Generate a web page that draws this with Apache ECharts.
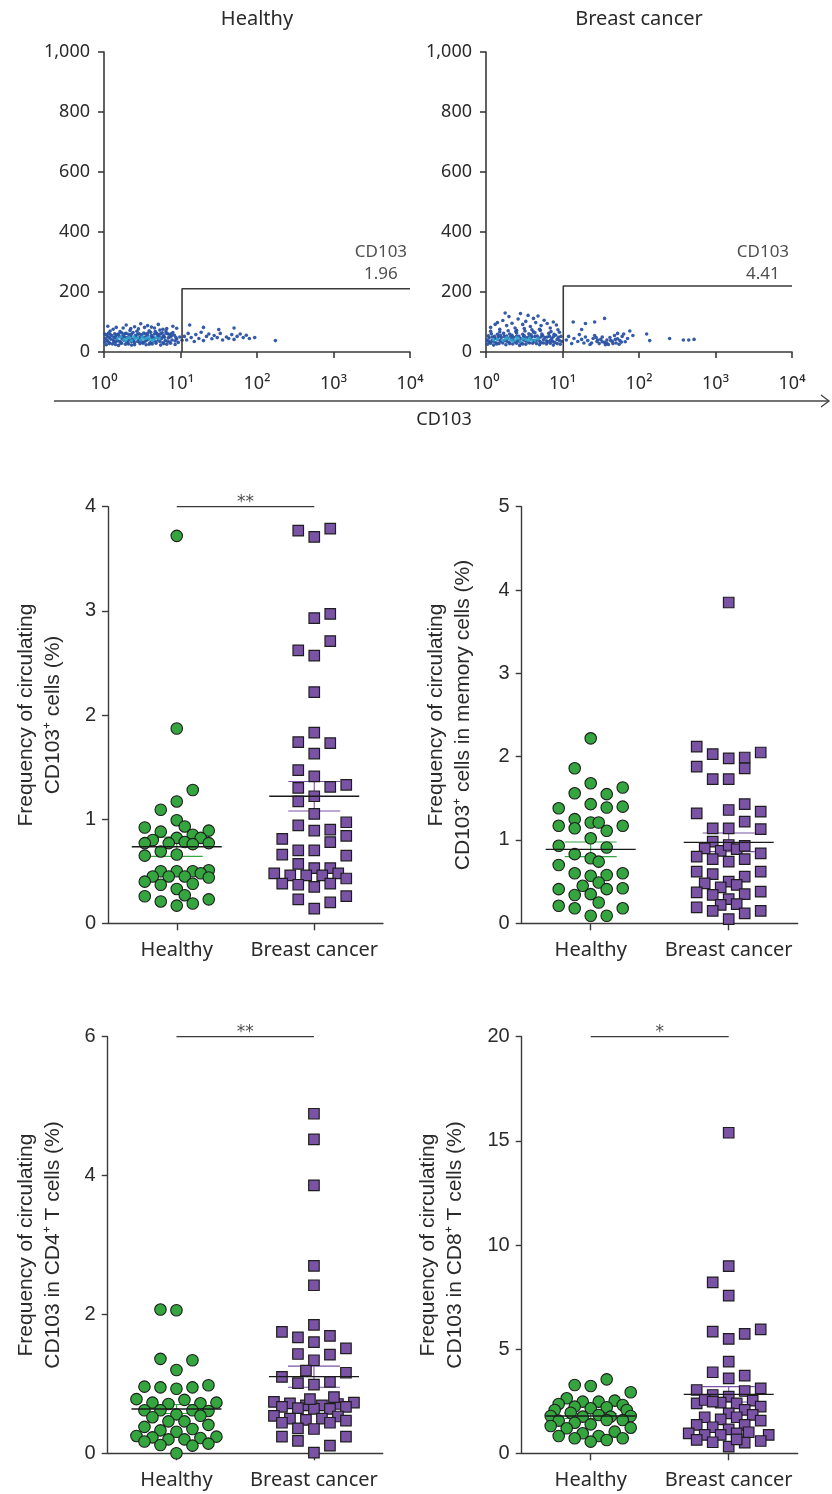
<!DOCTYPE html>
<html><head><meta charset="utf-8">
<script src="https://cdn.jsdelivr.net/npm/echarts@6/dist/echarts.min.js"></script>
<style>html,body{margin:0;padding:0;background:#fff}#c{width:832px;height:1494px}</style>
</head><body><div id="c"></div>
<script>
// ================= DATA =================
// --- flow cytometry panels (x = log10 CD103 intensity, y = scatter) ---
const FLOW_TITLES = ['Healthy', 'Breast cancer'];
const FLOW_X_LABELS = ['10\u2070', '10\u00b9', '10\u00b2', '10\u00b3', '10\u2074'];
const FLOW_Y_LABELS = {0: '0', 200: '200', 400: '400', 600: '600', 800: '800', 1000: '1,000'};
const FLOW_GATE_PCT = ['1.96', '4.41'];
const FLOW_GATE_START = [1.02, 1.01];   // log10 CD103 where gate begins
const FLOW_GATE_HEIGHT = [211, 220];
const FLOW_HEALTHY = [
 [0.03,24],[0.11,27],[0.19,22],[0.28,26],[0.36,23],[0.47,28],[0.55,24],[0.63,27],[0.74,23],[0.82,26],[0.93,25],
 [0.01,33],[0.07,31],[0.15,34],[0.22,30],[0.31,33],[0.40,31],[0.44,35],[0.51,32],[0.60,30],[0.68,34],[0.77,31],[0.86,33],[0.97,32],
 [0.04,38],[0.12,40],[0.18,37],[0.26,39],[0.33,41],[0.39,37],[0.48,39],[0.56,40],[0.65,37],[0.71,41],[0.80,38],[0.89,40],[1.02,39],
 [0.02,45],[0.09,43],[0.16,46],[0.24,44],[0.30,47],[0.37,43],[0.45,45],[0.53,47],[0.58,43],[0.66,46],[0.75,44],[0.84,47],[0.95,43],
 [0.05,51],[0.13,49],[0.20,52],[0.27,50],[0.35,53],[0.42,49],[0.50,51],[0.57,54],[0.64,50],[0.72,52],[0.79,49],[0.88,53],[0.99,50],
 [0.03,57],[0.10,55],[0.17,58],[0.25,56],[0.32,59],[0.41,55],[0.49,57],[0.54,60],[0.62,56],[0.70,58],[0.78,55],[0.85,59],[0.92,56],
 [0.06,63],[0.14,61],[0.23,64],[0.29,62],[0.38,65],[0.46,61],[0.52,63],[0.61,66],[0.69,62],[0.76,64],[0.83,61],[0.90,65],
 [0.08,70],[0.21,68],[0.34,72],[0.43,69],[0.59,71],[0.67,68],[0.73,73],[0.81,70],
 [0.07,28],[0.15,25],[0.23,29],[0.32,27],[0.40,24],[0.51,29],[0.59,26],[0.68,29],[0.78,28],[0.87,29],
 [0.05,36],[0.13,35],[0.21,36],[0.29,35],[0.36,35],[0.47,36],[0.54,36],[0.62,34],[0.73,35],[0.83,36],[0.93,37],
 [0.07,48],[0.15,51],[0.23,48],[0.33,50],[0.40,47],[0.47,49],[0.55,50],[0.62,48],[0.70,49],[0.77,51],[0.86,50],[0.94,48],
 [0.01,60],[0.08,59],[0.19,60],[0.27,61],[0.36,60],[0.44,59],[0.57,62],[0.66,60],[0.74,61],[0.81,63],[0.88,61],
 [0.05,86],[0.16,82],[0.29,90],[0.40,84],[0.48,94],[0.57,88],[0.66,80],[0.71,92],[0.82,78],[0.90,86],[0.35,78],[0.62,83],
 [0.12,76],[0.25,80],[0.45,77],[0.53,82],[0.77,76],[0.95,79],
 [1.05,52],[1.08,40],[1.10,62],[1.14,48],[1.18,35],[1.20,58],[1.24,45],[1.27,66],[1.30,38],[1.34,52],[1.37,60],[1.41,44],
 [1.44,55],[1.48,48],[1.52,62],[1.55,40],[1.60,50],[1.63,45],[1.67,58],[1.70,42],[1.74,52],[1.78,60],[1.82,48],[1.86,56],
 [1.90,45],[1.50,75],[1.70,80],[1.30,82],[1.12,90],[1.97,48],[2.24,38]
];
const FLOW_HEALTHY_CORE = [[0.18,45],[0.26,42],[0.33,48],[0.41,44],[0.48,40],[0.55,46],[0.60,42],[0.68,48],[0.36,38],[0.50,50],[0.22,50],[0.63,38],
 [0.30,44],[0.44,47],[0.52,43],[0.58,49],[0.72,44],[0.28,38],[0.39,50],[0.65,41]];
const FLOW_BC = [
 [0.02,26],[0.10,23],[0.17,28],[0.26,24],[0.35,27],[0.44,22],[0.52,26],[0.61,29],[0.70,24],[0.79,27],[0.88,23],[0.97,26],
 [0.05,33],[0.13,31],[0.21,35],[0.30,32],[0.38,34],[0.46,30],[0.55,33],[0.63,36],[0.72,31],[0.81,34],[0.90,32],[0.99,35],
 [0.01,40],[0.08,38],[0.16,41],[0.24,39],[0.33,42],[0.41,38],[0.49,40],[0.58,43],[0.66,39],[0.75,41],[0.84,38],[0.93,42],
 [0.04,47],[0.12,45],[0.20,48],[0.28,46],[0.36,49],[0.45,45],[0.53,47],[0.60,50],[0.69,46],[0.77,48],[0.86,45],[0.95,49],
 [0.03,54],[0.11,52],[0.19,55],[0.27,53],[0.34,56],[0.43,52],[0.50,54],[0.59,57],[0.67,53],[0.74,55],[0.83,52],[0.91,56],
 [0.07,61],[0.15,59],[0.23,62],[0.31,60],[0.40,63],[0.48,59],[0.56,61],[0.64,64],[0.73,60],[0.82,62],[0.89,59],
 [0.06,69],[0.18,67],[0.29,71],[0.39,68],[0.51,70],[0.62,67],[0.71,72],[0.85,68],[0.96,66],
 [0.06,29],[0.14,27],[0.22,30],[0.31,28],[0.40,29],[0.48,27],[0.57,30],[0.66,28],[0.75,30],[0.84,29],[0.93,28],
 [0.03,36],[0.10,35],[0.19,37],[0.27,36],[0.36,38],[0.44,35],[0.52,37],[0.62,38],[0.70,36],[0.79,37],[0.87,36],[0.96,38],
 [0.08,50],[0.16,51],[0.24,52],[0.32,51],[0.40,52],[0.49,50],[0.56,51],[0.64,52],[0.72,51],[0.80,50],[0.88,51],[0.98,52],
 [0.06,82],[0.12,92],[0.18,76],[0.22,105],[0.27,88],[0.30,118],[0.34,96],[0.38,80],[0.42,110],[0.45,128],[0.48,92],
 [0.52,102],[0.55,122],[0.58,85],[0.62,112],[0.65,98],[0.68,120],[0.72,88],[0.76,106],[0.80,95],[0.84,80],[0.88,100],
 [0.92,90],[0.25,130],[0.50,78],[0.70,76],[0.15,98],[0.40,72],[0.60,74],[0.94,74],
 [1.05,40],[1.08,52],[1.12,28],[1.15,45],[1.20,35],[1.22,58],[1.25,42],[1.28,30],[1.30,50],[1.33,38],[1.36,25],[1.40,45],
 [1.42,55],[1.45,35],[1.48,28],[1.50,42],[1.52,50],[1.55,32],[1.58,40],[1.60,25],[1.62,48],[1.65,36],[1.68,55],[1.70,30],
 [1.72,44],[1.75,38],[1.78,52],[1.80,60],[1.85,45],[1.88,70],[1.38,30],[1.44,48],[1.56,24],[1.66,28],[1.74,26],[1.82,34],
 [1.46,40],[1.52,34],[1.58,30],[1.63,38],[1.69,42],[1.77,33],
 [1.14,100],[1.30,95],[1.42,100],[1.55,112],[1.25,75],[1.72,62],[1.92,55],[2.10,60],[2.14,38],[2.40,45],[2.58,40],[2.65,40],[2.72,42]
];
const FLOW_BC_CORE = [[0.15,42],[0.22,38],[0.30,44],[0.38,40],[0.45,36],[0.52,42],[0.60,38],[0.68,44],[0.27,48],[0.42,46],[0.57,46],[0.35,35],[0.10,40],
 [0.33,39],[0.48,44],[0.64,40],[0.25,43],[0.55,39],[0.40,48]];

// --- dot plots: [column slot within swarm, value %] ---
const GROUPS = ['Healthy', 'Breast cancer'];
const P1_HEALTHY = [[0,3.72],[0,1.87],[2,1.28],[0,1.17],[-2,1.09],[0,0.99],[-4,0.92],[1,0.93],[-2,0.88],[2,0.85],[4,0.89],[-3,0.80],[0,0.82],[3,0.82],[-4,0.77],[-1,0.77],[1,0.78],[2,0.76],[4,0.77],[-4,0.65],[-2,0.69],[0,0.66],[-2,0.50],[0,0.50],[2,0.50],[4,0.51],[-3,0.45],[-1,0.45],[1,0.45],[3,0.48],[4,0.44],[-4,0.40],[-2,0.37],[2,0.38],[0,0.33],[1,0.27],[-4,0.26],[-2,0.21],[4,0.23],[0,0.17],[2,0.19]];
const P1_CANCER = [[-2,3.77],[0,3.71],[2,3.79],[0,2.93],[2,2.97],[2,2.71],[-2,2.62],[0,2.57],[0,2.22],[0,1.83],[-2,1.74],[2,1.73],[0,1.63],[-2,1.47],[0,1.41],[-2,1.30],[2,1.31],[4,1.33],[-2,1.17],[0,1.22],[0,1.05],[-2,0.94],[4,0.97],[0,0.89],[2,0.90],[-4,0.81],[2,0.78],[4,0.84],[-4,0.66],[-2,0.70],[0,0.70],[4,0.65],[-2,0.57],[0,0.53],[2,0.53],[-5,0.48],[-3,0.46],[-1,0.46],[1,0.46],[3,0.48],[-4,0.38],[-2,0.37],[0,0.35],[2,0.38],[4,0.43],[-2,0.23],[4,0.26],[2,0.20],[0,0.14]];
const P2_HEALTHY = [[0,2.22],[-2,1.86],[0,1.68],[-2,1.56],[2,1.55],[4,1.63],[-4,1.38],[0,1.43],[2,1.39],[4,1.40],[-2,1.25],[0,1.21],[1,1.21],[-4,1.17],[-2,1.14],[2,1.11],[4,1.17],[0,1.02],[-4,0.93],[2,0.91],[-2,0.83],[0,0.78],[1,0.74],[-4,0.70],[-2,0.60],[0,0.57],[2,0.58],[4,0.60],[1,0.49],[-1,0.45],[-4,0.41],[2,0.41],[4,0.42],[-2,0.34],[0,0.35],[1,0.25],[-4,0.21],[-2,0.18],[4,0.18],[0,0.09],[2,0.09]];
const P2_CANCER = [[0,3.85],[-4,2.12],[-2,2.03],[0,1.98],[2,1.99],[4,2.05],[-4,1.88],[2,1.86],[-2,1.73],[0,1.73],[2,1.43],[0,1.36],[-4,1.32],[4,1.34],[2,1.22],[-2,1.14],[0,1.14],[4,1.13],[-2,0.98],[-3,0.90],[-1,0.87],[0,0.94],[1,0.89],[2,0.93],[-4,0.80],[-2,0.77],[0,0.74],[2,0.77],[4,0.84],[-4,0.62],[-2,0.59],[2,0.56],[4,0.62],[-3,0.48],[0,0.50],[-1,0.43],[1,0.46],[-4,0.37],[-2,0.34],[2,0.35],[4,0.38],[0,0.29],[-1,0.22],[1,0.23],[-4,0.19],[-2,0.15],[2,0.12],[4,0.15],[0,0.05]];
const P3_HEALTHY = [[-2,2.07],[0,2.06],[-2,1.36],[2,1.34],[0,1.20],[-4,0.96],[-2,0.95],[0,0.93],[2,0.95],[4,0.98],[-5,0.78],[-3,0.73],[-1,0.71],[1,0.77],[3,0.72],[5,0.73],[-4,0.62],[-2,0.62],[0,0.56],[2,0.62],[4,0.61],[-3,0.52],[3,0.54],[-1,0.46],[1,0.46],[-4,0.38],[4,0.41],[-2,0.33],[0,0.31],[2,0.35],[-5,0.25],[-3,0.23],[-1,0.20],[1,0.20],[3,0.22],[5,0.24],[-4,0.17],[-2,0.12],[2,0.11],[4,0.14],[0,0.0]];
const P3_CANCER = [[0,4.89],[0,4.52],[0,3.86],[0,2.70],[0,2.42],[0,1.85],[-4,1.75],[-2,1.67],[0,1.60],[2,1.69],[4,1.51],[-2,1.43],[2,1.42],[0,1.34],[-1,1.19],[-4,1.10],[4,1.16],[-2,1.01],[0,0.99],[2,1.03],[-5,0.74],[-3,0.72],[-1,0.69],[1,0.69],[3,0.71],[5,0.73],[-4,0.67],[-2,0.65],[0,0.64],[2,0.64],[4,0.67],[-0.5,0.78],[2.5,0.81],[-5,0.54],[-3,0.50],[-1,0.48],[1,0.50],[3,0.53],[-4,0.44],[2,0.44],[4,0.47],[-2,0.36],[0,0.35],[-4,0.24],[4,0.24],[-2,0.18],[2,0.11],[0,0.01]];
const P4_HEALTHY = [[2,3.55],[-2,3.28],[0,3.23],[5,2.93],[-3,2.64],[-4,2.37],[-1,2.48],[1,2.48],[3,2.53],[4,2.32],[-4.5,2.08],[-2,2.24],[0,2.16],[2,2.21],[4.5,2.08],[-5,1.79],[-2.5,1.95],[-1,1.76],[1,1.84],[2.5,1.76],[5,1.79],[-4,1.57],[-2,1.47],[0,1.39],[2,1.60],[4,1.60],[-5,1.31],[-3,1.20],[3,1.04],[5,1.23],[-4,0.83],[-1,0.96],[1,0.83],[-2,0.72],[2,0.64],[4,0.72],[0,0.56]];
const P4_CANCER = [[0,15.39],[0,8.99],[-2,8.21],[0,7.57],[-2,5.84],[2,5.73],[4,5.95],[0,5.49],[0,4.40],[-2,3.89],[2,3.73],[0,3.60],[-4,3.04],[4,3.12],[2,2.99],[-2,2.80],[0,2.72],[-4,2.40],[-3,2.56],[-1,2.43],[1,2.40],[3,2.53],[-2,2.48],[4,2.24],[0,1.92],[2,2.08],[-3,1.73],[-1,1.63],[1,1.73],[3,1.84],[4,1.57],[-4,1.36],[-2,1.25],[0,1.15],[2,1.36],[-5,0.96],[-3,0.88],[-1,0.88],[1,0.96],[2.5,1.01],[5,0.88],[-4,0.64],[-2,0.53],[0,0.32],[2,0.51],[4,0.59],[1,0.67]];
// mean and SEM per group [healthy, cancer]
const P1_STATS = [[0.735, 0.092], [1.22, 0.142]];
const P2_STATS = [[0.888, 0.088], [0.972, 0.112]];
const P3_STATS = [[0.638, 0.065], [1.104, 0.152]];
const P4_STATS = [[1.79, 0.12], [2.83, 0.37]];
const Y_NAMES = [
  'Frequency of circulating\nCD103\u207a cells (%)',
  'Frequency of circulating\nCD103\u207a cells in memory cells (%)',
  'Frequency of circulating\nCD103 in CD4\u207a T cells (%)',
  'Frequency of circulating\nCD103 in CD8\u207a T cells (%)'
];
const Y_MAX = [4, 5, 6, 20];
const Y_STEP = [1, 1, 2, 5];
const SIGNIF = ['**', '', '**', '*'];

// ================= LAYOUT / STYLE =================
const AX = '#3a3a3a';
const GREEN = '#35a540', PURPLE = '#7a53a5';
const DOT_GRIDS = [
  {left: 108, top: 506.7, width: 275, height: 416.6},
  {left: 521.7, top: 506.7, width: 276, height: 416.6},
  {left: 107.7, top: 1036.7, width: 275, height: 416.6},
  {left: 521.7, top: 1036.7, width: 276, height: 416.6}
];
const NAME_GAPS = [41, 45, 41, 53];
const FLOW_GRIDS = [
  {left: 104, top: 52, width: 306, height: 300},
  {left: 486, top: 52, width: 306, height: 300}
];
const SLOT_PX = 8;
const PANELS = [
  [P1_HEALTHY, P1_CANCER, P1_STATS],
  [P2_HEALTHY, P2_CANCER, P2_STATS],
  [P3_HEALTHY, P3_CANCER, P3_STATS],
  [P4_HEALTHY, P4_CANCER, P4_STATS]
];
const CENTERS = [1, 3];

const grids = [], xAxes = [], yAxes = [], series = [];
const SANS = 'Liberation Sans, Arial, sans-serif';
const NOTO = 'Noto Sans, Open Sans, sans-serif';

// Flow panels
FLOW_GRIDS.forEach((g, i) => {
  grids.push(Object.assign({containLabel: false}, g));
  xAxes.push({
    gridIndex: i, type: 'value', min: 0, max: 4, interval: 1,
    axisLine: {show: true, onZero: false, lineStyle: {color: AX, width: 1.6}},
    axisTick: {show: true, length: 6, lineStyle: {color: AX, width: 1.6}},
    axisLabel: {formatter: v => FLOW_X_LABELS[v], fontFamily: NOTO, fontSize: 18, color: '#2a2a2a', margin: 23},
    splitLine: {show: false}
  });
  yAxes.push({
    gridIndex: i, type: 'value', min: 0, max: 1000, interval: 200,
    axisLine: {show: true, onZero: false, lineStyle: {color: AX, width: 1.6}},
    axisTick: {show: true, length: 6, lineStyle: {color: AX, width: 1.6}},
    axisLabel: {formatter: v => FLOW_Y_LABELS[v], fontFamily: NOTO, fontSize: 18, color: '#2a2a2a', margin: 14},
    splitLine: {show: false}
  });
  const pts = i === 0 ? FLOW_HEALTHY : FLOW_BC;
  const core = i === 0 ? FLOW_HEALTHY_CORE : FLOW_BC_CORE;
  series.push({type: 'scatter', xAxisIndex: i, yAxisIndex: i, data: pts, symbolSize: 3.6, silent: true,
    itemStyle: {color: '#2a52a3', opacity: 0.95}, z: 2});
  series.push({type: 'scatter', xAxisIndex: i, yAxisIndex: i, data: core, symbolSize: 3.4, silent: true,
    itemStyle: {color: '#33abd0'}, z: 3});
  const gs = FLOW_GATE_START[i], gh = FLOW_GATE_HEIGHT[i];
  series.push({type: 'line', xAxisIndex: i, yAxisIndex: i, data: [[gs, 0], [gs, gh], [4, gh]],
    symbol: 'none', silent: true, lineStyle: {color: AX, width: 1.6}, z: 4});
  series.push({type: 'scatter', xAxisIndex: i, yAxisIndex: i, data: [[3.62, 297]], symbolSize: 0, silent: true,
    label: {show: true, position: 'inside', formatter: 'CD103\n' + FLOW_GATE_PCT[i],
      fontFamily: NOTO, fontSize: 17, lineHeight: 22, color: '#222', align: 'center'}});
});

// Dot plot panels
PANELS.forEach((p, j) => {
  const gi = j + 2;
  const g = DOT_GRIDS[j];
  grids.push(Object.assign({containLabel: false}, g));
  xAxes.push({
    gridIndex: gi, type: 'value', min: 0, max: 4,
    axisLine: {show: true, onZero: false, lineStyle: {color: AX, width: 1.4}},
    axisTick: {show: true, customValues: CENTERS, length: 7, lineStyle: {color: AX, width: 1.4}},
    axisLabel: {customValues: CENTERS, formatter: v => GROUPS[(v - 1) / 2], fontFamily: NOTO, fontSize: 20, color: '#2a2a2a', margin: 17},
    splitLine: {show: false}
  });
  yAxes.push({
    gridIndex: gi, type: 'value', min: 0, max: Y_MAX[j], interval: Y_STEP[j],
    axisLine: {show: true, onZero: false, lineStyle: {color: AX, width: 1.4}},
    axisTick: {show: true, length: 6, lineStyle: {color: AX, width: 1.4}},
    axisLabel: {fontFamily: SANS, fontSize: 20, color: '#2a2a2a', margin: 12},
    splitLine: {show: false},
    name: Y_NAMES[j], nameLocation: 'middle', nameRotate: 90, nameGap: NAME_GAPS[j],
    nameTextStyle: {fontFamily: SANS, fontSize: 21, lineHeight: 27, color: '#2a2a2a', align: 'center'}
  });
  const step = SLOT_PX * 4 / g.width;
  const toXY = (arr, c) => arr.map(d => [c + d[0] * step, d[1]]);
  const stats = p[2];
  // SEM bars (under markers)
  series.push({
    type: 'custom', xAxisIndex: gi, yAxisIndex: gi, silent: true, z: 1, clip: false,
    data: stats.map((s, k) => [CENTERS[k], s[0], s[1], k]),
    renderItem: (params, api) => {
      const c = api.value(0), m = api.value(1), s = api.value(2), k = api.value(3);
      const pu = api.coord([c, m + s]), pl = api.coord([c, m - s]);
      const col = k === 0 ? GREEN : PURPLE;
      const st = {stroke: col, lineWidth: 1.1};
      return {type: 'group', children: [
        {type: 'line', shape: {x1: pu[0] - 26, y1: pu[1], x2: pu[0] + 26, y2: pu[1]}, style: st},
        {type: 'line', shape: {x1: pl[0] - 26, y1: pl[1], x2: pl[0] + 26, y2: pl[1]}, style: st},
        {type: 'line', shape: {x1: pu[0], y1: pu[1], x2: pl[0], y2: pl[1]}, style: st}
      ]};
    }
  });
  series.push({type: 'scatter', xAxisIndex: gi, yAxisIndex: gi, data: toXY(p[0], CENTERS[0]), symbol: 'circle',
    symbolSize: 11.5, silent: true, z: 2, itemStyle: {color: GREEN, borderColor: '#1e1e1e', borderWidth: 1.1, opacity: 1}});
  series.push({type: 'scatter', xAxisIndex: gi, yAxisIndex: gi, data: toXY(p[1], CENTERS[1]), symbol: 'rect',
    symbolSize: 10.5, silent: true, z: 2, itemStyle: {color: PURPLE, borderColor: '#1e1e1e', borderWidth: 1.2, opacity: 1}});
  // mean lines (over markers)
  series.push({
    type: 'custom', xAxisIndex: gi, yAxisIndex: gi, silent: true, z: 5, clip: false,
    data: stats.map((s, k) => [CENTERS[k], s[0]]),
    renderItem: (params, api) => {
      const pm = api.coord([api.value(0), api.value(1)]);
      return {type: 'line', shape: {x1: pm[0] - 45, y1: pm[1], x2: pm[0] + 45, y2: pm[1]}, style: {stroke: '#1a1a1a', lineWidth: 1.3}};
    }
  });
  if (SIGNIF[j]) {
    series.push({type: 'line', xAxisIndex: gi, yAxisIndex: gi, data: [[CENTERS[0], Y_MAX[j]], [CENTERS[1], Y_MAX[j]]],
      symbol: 'none', silent: true, lineStyle: {color: AX, width: 1.2}, z: 4});
    series.push({type: 'scatter', xAxisIndex: gi, yAxisIndex: gi, data: [[(CENTERS[0] + CENTERS[1]) / 2, Y_MAX[j]]],
      symbolSize: 0, silent: true,
      label: {show: true, position: 'top', distance: -4, formatter: SIGNIF[j], fontFamily: 'DejaVu Sans, sans-serif', fontSize: 17, color: '#222'}});
  }
});

const graphic = [
  {type: 'text', x: 257, y: 19, style: {text: FLOW_TITLES[0], font: '20px Noto Sans', fill: '#2a2a2a', textAlign: 'center', textVerticalAlign: 'middle'}},
  {type: 'text', x: 639, y: 19, style: {text: FLOW_TITLES[1], font: '20px Noto Sans', fill: '#2a2a2a', textAlign: 'center', textVerticalAlign: 'middle'}},
  {type: 'line', shape: {x1: 54, y1: 401, x2: 829, y2: 401}, style: {stroke: '#444', lineWidth: 1.3}},
  {type: 'polyline', shape: {points: [[821, 395], [829, 401], [821, 407]]}, style: {stroke: '#444', lineWidth: 1.3, fill: null}},
  {type: 'text', x: 444, y: 420, style: {text: 'CD103', font: '18px Noto Sans', fill: '#2a2a2a', textAlign: 'center', textVerticalAlign: 'middle'}}
];

const chart = echarts.init(document.getElementById('c'), null, {renderer: 'canvas'});
chart.setOption({animation: false, backgroundColor: '#fff', grid: grids, xAxis: xAxes, yAxis: yAxes, series, graphic});
</script></body></html>
